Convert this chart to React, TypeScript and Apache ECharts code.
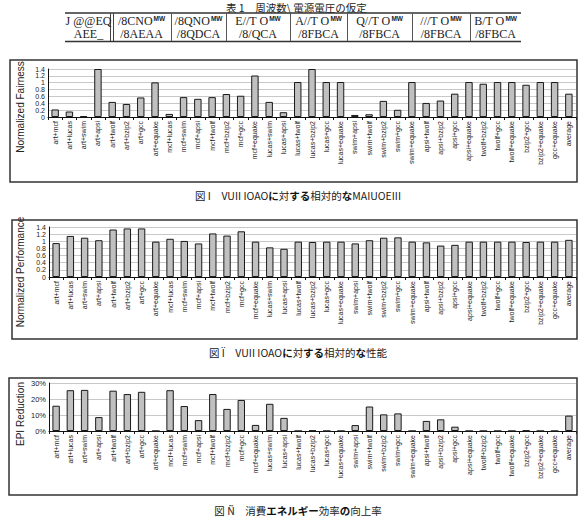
import React, { useEffect, useRef } from "react";
import * as echarts from "echarts";

const categories = [
  "art+mcf", "art+lucas", "art+swim", "art+apsi", "art+twolf", "art+bzip2", "art+gcc", "art+equake",
  "mcf+lucas", "mcf+swim", "mcf+apsi", "mcf+twolf", "mcf+bzip2", "mcf+gcc", "mcf+equake",
  "lucas+swim", "lucas+apsi", "lucas+twolf", "lucas+bzip2", "lucas+gcc", "lucas+equake",
  "swim+apsi", "swim+twolf", "swim+bzip2", "swim+gcc", "swim+equake",
  "apsi+twolf", "apsi+bzip2", "apsi+gcc", "apsi+equake",
  "twolf+bzip2", "twolf+gcc", "twolf+equake",
  "bzip2+gcc", "bzip2+equake", "gcc+equake", "average",
];

const fairness = [
  0.22, 0.16, 0.02, 1.4, 0.44, 0.38, 0.57, 1.01,
  0.09, 0.58, 0.53, 0.58, 0.67, 0.62, 1.21,
  0.44, 0.14, 1.02, 1.4, 1.02, 1.02,
  0.06, 0.08, 0.47, 0.21, 1.02,
  0.41, 0.48, 0.68, 1.02,
  0.97, 1.02, 1.02,
  0.94, 1.02, 1.02, 0.68,
];

const performance = [
  0.95, 1.15, 1.1, 1.03, 1.33, 1.36, 1.36, 0.99,
  1.07, 1.01, 0.94, 1.22, 1.16, 1.28, 0.99,
  0.83, 0.79, 0.99, 0.98, 0.99, 0.99,
  0.94, 1.03, 1.1, 1.11, 0.99,
  0.97, 0.88, 0.9, 0.99,
  0.99, 0.99, 0.99,
  0.98, 0.99, 0.99, 1.04,
];

const epiReduction = [
  15.8, 25.5, 25.7, 8.7, 25.2, 23.1, 24.5, 0,
  25.5, 15.6, 6.8, 23.1, 13.8, 19.4, 3.8,
  17.0, 8.2, 0, 0.3, 0, 0,
  3.7, 15.3, 10.4, 11.0, 0,
  6.3, 7.3, 2.7, 0,
  0, 0, 0,
  0.3, 0, 0, 9.6,
];

const ratioTicks = [0, 0.2, 0.4, 0.6, 0.8, 1, 1.2, 1.4];
const percentTicks = [0, 10, 20, 30];

const tableTitle = "表 1　周波数\\ 電源電圧の仮定";
const tableRow1 = ["J @@EQ", "/8CNO", "/8QNO", "E//T O", "A//T O", "Q//T O", "///T O", "B/T O"];
const tableRow1Sup = ["", "MW", "MW", "MW", "MW", "MW", "MW", "MW"];
const tableRow2 = ["AEE_", "/8AEAA", "/8QDCA", "/8/QCA", "/8FBCA", "/8FBCA", "/8FBCA", "/8FBCA"];

const captionParts1 = [["図 I　VUII IOAO", false], ["に", true], ["対", false], ["する", true], ["相対的", false], ["な", true], ["MAIUOEIII", false]];
const captionParts2 = [["図 Ï　VUII IOAO", false], ["に", true], ["対", false], ["する", true], ["相対的", false], ["な", true], ["性能", false]];
const captionParts3 = [["図 Ñ　消費", false], ["エネルギー", true], ["効率", false], ["の", true], ["向上率", false]];

const yNames = ["Normalized Fairness", "Normalized Performance", "EPI Reduction"];

const FONT = "Arial, 'Liberation Sans', sans-serif";
const JFONT = "'Noto Sans CJK JP', 'Liberation Serif', serif";

function rich(parts: any[]) {
  return parts.map((p) => `{${p[1] ? "b" : "n"}|${p[0]}}`).join("");
}

export default function App() {
  const ref = useRef<HTMLDivElement>(null);

  useEffect(() => {
    if (!ref.current) return;
    const chart = echarts.init(ref.current, undefined, { renderer: "svg" });

    const grids = [
      { left: 48, top: 69, width: 528, height: 48 },
      { left: 49, top: 227, width: 527, height: 50 },
      { left: 49, top: 383, width: 527, height: 48 },
    ];
    const frames = [
      { x: 10, y: 60, width: 567, height: 122 },
      { x: 12, y: 220, width: 565, height: 119 },
      { x: 9, y: 378, width: 568, height: 117 },
    ];
    const nameY = [107, 272, 414];
    const datasets = [fairness, performance, epiReduction];
    const yTicks = [ratioTicks, ratioTicks, percentTicks];
    const captions = [
      { parts: captionParts1, y: 195 },
      { parts: captionParts2, y: 352 },
      { parts: captionParts3, y: 510 },
    ];

    const xAxis = grids.map((_, i) => ({
      type: "category",
      gridIndex: i,
      data: categories,
      boundaryGap: true,
      axisLine: { show: true, lineStyle: { color: "#111", width: 1 } },
      axisTick: { show: true, interval: 0, length: 3, lineStyle: { color: "#111" } },
      axisLabel: {
        interval: 0,
        rotate: 90,
        fontSize: 7,
        fontFamily: FONT,
        color: "#222",
        margin: 4,
      },
    }));

    const yAxis = grids.map((_, i) => {
      const t = yTicks[i];
      const pct = i === 2;
      return {
        type: "value",
        gridIndex: i,
        min: t[0],
        max: t[t.length - 1],
        interval: t[1] - t[0],
        axisLine: { show: true, lineStyle: { color: "#111", width: 1 } },
        axisTick: { show: false },
        splitLine: { show: true, lineStyle: { color: "#c8c8c8", width: 1 } },
        axisLabel: {
          showMinLabel: true,
          showMaxLabel: true,
          hideOverlap: false,
          fontSize: pct ? 7.5 : 7,
          lineHeight: pct ? 8 : 6.5,
          fontFamily: FONT,
          color: "#222",
          margin: 3,
          formatter: (v: number) => (pct ? `${Math.round(v)}%` : String(+v.toFixed(1))),
        },
      };
    });

    const series = grids.map((_, i) => ({
      type: "bar",
      xAxisIndex: i,
      yAxisIndex: i,
      data: datasets[i],
      barWidth: "52%",
      itemStyle: { color: "#c0c0c0", borderColor: "#1a1a1a", borderWidth: 1 },
      silent: true,
    }));

    const graphic: any[] = [];
    frames.forEach((f) => {
      graphic.push({
        type: "rect",
        shape: { x: f.x, y: f.y, width: f.width, height: f.height },
        style: { fill: "transparent", stroke: "#333", lineWidth: 1.5 },
        z: 10,
        silent: true,
      });
    });
    yNames.forEach((n, i) => {
      graphic.push({
        type: "text",
        x: 20,
        y: nameY[i],
        rotation: Math.PI / 2,
        style: {
          text: n,
          fontSize: 10,
          fontFamily: FONT,
          fill: "#222",
          align: "center",
          verticalAlign: "middle",
        },
      });
    });
    captions.forEach((c) => {
      graphic.push({
        type: "text",
        x: 298,
        y: c.y,
        style: {
          text: rich(c.parts),
          align: "center",
          verticalAlign: "middle",
          rich: {
            n: { fontSize: 10.5, fontFamily: JFONT, fill: "#222" },
            b: { fontSize: 10.5, fontFamily: JFONT, fill: "#111", fontWeight: "bold" },
          },
        },
      });
    });

    // table
    const colX = [65, 112, 171, 226, 290, 347, 412, 470, 521];
    graphic.push({
      type: "text",
      x: 226,
      y: 7,
      style: { text: tableTitle, fontSize: 10.5, lineHeight: 11, fontFamily: JFONT, fill: "#222", align: "left", verticalAlign: "middle" },
    });
    graphic.push({ type: "line", shape: { x1: 65, y1: 13, x2: 521, y2: 13 }, style: { stroke: "#333", lineWidth: 1.6 } });
    graphic.push({ type: "line", shape: { x1: 65, y1: 41.5, x2: 521, y2: 41.5 }, style: { stroke: "#333", lineWidth: 1.6 } });
    for (let k = 1; k < colX.length - 1; k++) {
      if (k === 1) {
        graphic.push({ type: "line", shape: { x1: 110.5, y1: 13, x2: 110.5, y2: 41 }, style: { stroke: "#444", lineWidth: 1 } });
        graphic.push({ type: "line", shape: { x1: 113.5, y1: 13, x2: 113.5, y2: 41 }, style: { stroke: "#444", lineWidth: 1 } });
      } else {
        graphic.push({ type: "line", shape: { x1: colX[k] + 0.5, y1: 13, x2: colX[k] + 0.5, y2: 41 }, style: { stroke: "#555", lineWidth: 1 } });
      }
    }
    for (let k = 0; k < colX.length - 1; k++) {
      const cx = (colX[k] + colX[k + 1]) / 2;
      const sup = tableRow1Sup[k];
      graphic.push({
        type: "text",
        x: cx,
        y: 21,
        style: {
          text: sup ? `{a|${tableRow1[k]}}{s|${sup}}` : `{a|${tableRow1[k]}}`,
          align: "center",
          verticalAlign: "middle",
          rich: {
            a: { fontSize: 12, lineHeight: 12, fontFamily: "'Liberation Serif', serif", fill: "#222" },
            s: { fontSize: 6.5, lineHeight: 12, fontFamily: FONT, fontWeight: "bold", fill: "#222", padding: [0, 0, 5, 1] },
          },
        },
      });
      graphic.push({
        type: "text",
        x: cx,
        y: 34,
        style: {
          text: tableRow2[k],
          fontSize: 12,
          lineHeight: 12,
          fontFamily: "'Liberation Serif', serif",
          fill: "#222",
          align: "center",
          verticalAlign: "middle",
        },
      });
    }

    chart.setOption({
      animation: false,
      backgroundColor: "#fff",
      grid: grids.map((g) => ({ ...g, containLabel: false })),
      xAxis,
      yAxis,
      series,
      graphic,
    } as any);

    return () => chart.dispose();
  }, []);

  return (
    <div
      ref={ref}
      style={{ position: "absolute", left: 0, top: 0, width: 580, height: 528, background: "#fff" }}
    />
  );
}
